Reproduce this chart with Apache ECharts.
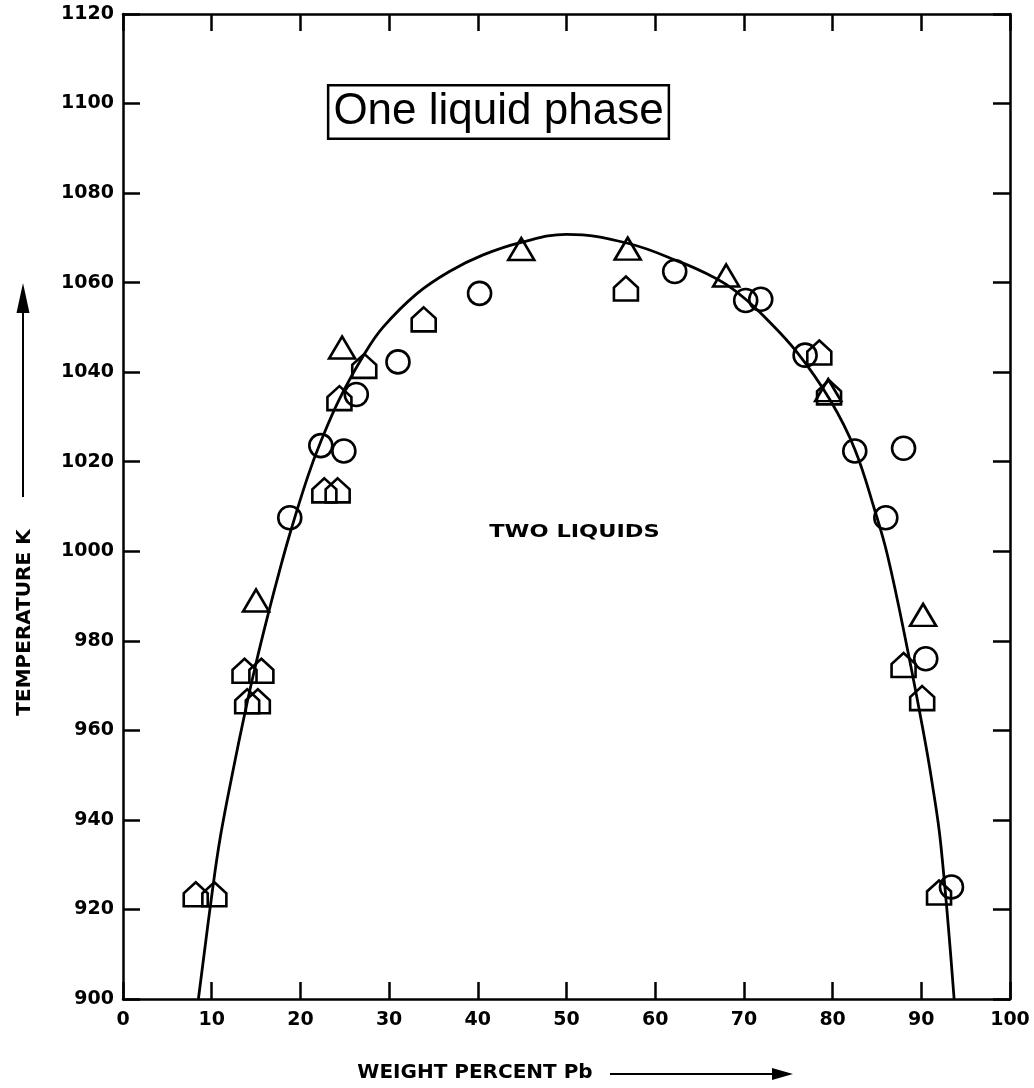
<!DOCTYPE html>
<html><head><meta charset="utf-8">
<script src="https://cdn.jsdelivr.net/npm/echarts/dist/echarts.min.js"></script>
<style>html,body{margin:0;padding:0;background:#fff}#c{width:1034px;height:1088px}</style>
</head><body><div id="c"></div><script>
// Fitted miscibility-gap curve (weight % Pb, temperature K)
const curvePts = [[8.5,900],[10.1,924.5],[11.0,936.5],[12.4,951],[13.7,963.5],[15.0,975],[16.5,987],[17.6,995.3],[18.8,1003.8],[20.8,1016.5],[22.3,1024.5],[24.4,1034],[27.2,1044],[29.3,1050],[33.1,1057.5],[36.8,1062.5],[40.6,1066.2],[44.9,1069],[50,1070.8],[56.9,1068.8],[63.2,1064.3],[66,1061.8],[68,1059.6],[70.2,1056.3],[72.2,1052.6],[76,1044.4],[79.8,1033.5],[82.5,1022.8],[84.7,1009.5],[86.2,999],[88.4,978.5],[90.2,960],[91.2,948.5],[92.2,934.5],[93.7,900]];
const circlePts = [[18.8,1007.5],[22.3,1023.6],[24.9,1022.4],[26.3,1035],[31,1042.3],[40.2,1057.6],[62.2,1062.5],[70.2,1056],[71.9,1056.3],[76.9,1043.8],[82.5,1022.4],[86,1007.5],[88,1023],[90.5,976],[93.4,925]];
const trianglePts = [[15,989],[24.7,1045.5],[44.9,1067.5],[56.9,1067.6],[68,1061.6],[79.5,1036],[90.2,985.8]];
const pentagonPts = [[8.2,923.4],[10.3,923.4],[13.7,973.3],[15.6,973.3],[14,966.5],[15.2,966.5],[22.7,1013.6],[24.2,1013.6],[24.4,1034.2],[27.2,1041.4],[33.9,1051.8],[56.7,1058.7],[78.5,1044.4],[79.6,1035.5],[88,974.6],[90.1,967.2],[92,923.8]];
const xMin = 0, xMax = 100, xStep = 10;
const yMin = 900, yMax = 1120, yStep = 20;
const xTitle = 'WEIGHT PERCENT Pb';
const yTitle = 'TEMPERATURE K';
const regionTop = 'One liquid phase';
const regionIn = 'TWO LIQUIDS';

const chart = echarts.init(document.getElementById('c'), null, {renderer:'canvas'});
const axLine = {show:true, onZero:false, lineStyle:{color:'#000', width:2.5}};
const tick = {show:true, inside:true, length:17, lineStyle:{color:'#000', width:2.5}};
const lblFont = {color:'#000', fontFamily:'DejaVu Sans', fontWeight:'bold', fontSize:19, formatter:(v)=>String(v)};
const hollow = {color:'rgba(255,255,255,0)', borderColor:'#000', borderWidth:2.6, opacity:1};
const house = 'path://M12,0 L24,11 L24,24 L0,24 L0,11 Z';

chart.setOption({
  animation:false,
  backgroundColor:'#fff',
  grid:{left:123, right:24, top:14, bottom:86},
  xAxis:[
    {type:'value', position:'bottom', min:xMin, max:xMax, interval:xStep,
     axisLine:axLine, axisTick:tick, splitLine:{show:false},
     axisLabel:Object.assign({margin:12}, lblFont),
     name:xTitle, nameLocation:'middle', nameGap:64,
     nameTextStyle:{color:'#000', fontFamily:'DejaVu Sans', fontWeight:'bold', fontSize:20, padding:[0,183,0,0]}},
    {type:'value', position:'top', min:xMin, max:xMax, interval:xStep,
     axisLine:axLine, axisTick:tick, splitLine:{show:false}, axisLabel:{show:false}}
  ],
  yAxis:[
    {type:'value', position:'left', min:yMin, max:yMax, interval:yStep,
     axisLine:axLine, axisTick:tick, splitLine:{show:false},
     axisLabel:Object.assign({margin:9}, lblFont),
     name:yTitle, nameLocation:'middle', nameRotate:90, nameGap:88,
     nameTextStyle:{color:'#000', fontFamily:'DejaVu Sans', fontWeight:'bold', fontSize:20, padding:[0,232,0,0]}},
    {type:'value', position:'right', min:yMin, max:yMax, interval:yStep,
     axisLine:axLine, axisTick:tick, splitLine:{show:false}, axisLabel:{show:false}}
  ],
  series:[
    {type:'line', data:curvePts, symbol:'none', smooth:0.4,
     lineStyle:{color:'#000', width:2.8}, z:2, silent:true},
    {type:'scatter', data:circlePts, symbol:'circle', symbolSize:23, itemStyle:hollow, z:3},
    {type:'scatter', data:trianglePts, symbol:'triangle', symbolSize:[26,22], itemStyle:hollow, z:3},
    {type:'scatter', data:pentagonPts, symbol:house, symbolSize:[24,24], itemStyle:hollow, z:3}
  ],
  graphic:[
    {type:'text', x:498.5, y:112, z:10,
     style:{text:regionTop, font:'44px "Liberation Sans"', fill:'#000', align:'center', verticalAlign:'middle',
            backgroundColor:'#fff', borderColor:'#000', borderWidth:2.5, padding:[4,4,3,4]}},
    {type:'text', x:574.5, y:532, scaleX:1.25, z:10,
     style:{text:regionIn, font:'bold 18px "DejaVu Sans"', fill:'#000', align:'center', verticalAlign:'middle'}},
    {type:'line', shape:{x1:610, y1:1074, x2:774, y2:1074}, style:{stroke:'#000', lineWidth:2}},
    {type:'polygon', shape:{points:[[793,1074],[772,1068],[772,1080]]}, style:{fill:'#000'}},
    {type:'line', shape:{x1:23, y1:497, x2:23, y2:310}, style:{stroke:'#000', lineWidth:2}},
    {type:'polygon', shape:{points:[[23,283],[16.5,313],[29.5,313]]}, style:{fill:'#000'}}
  ]
});
</script></body></html>
